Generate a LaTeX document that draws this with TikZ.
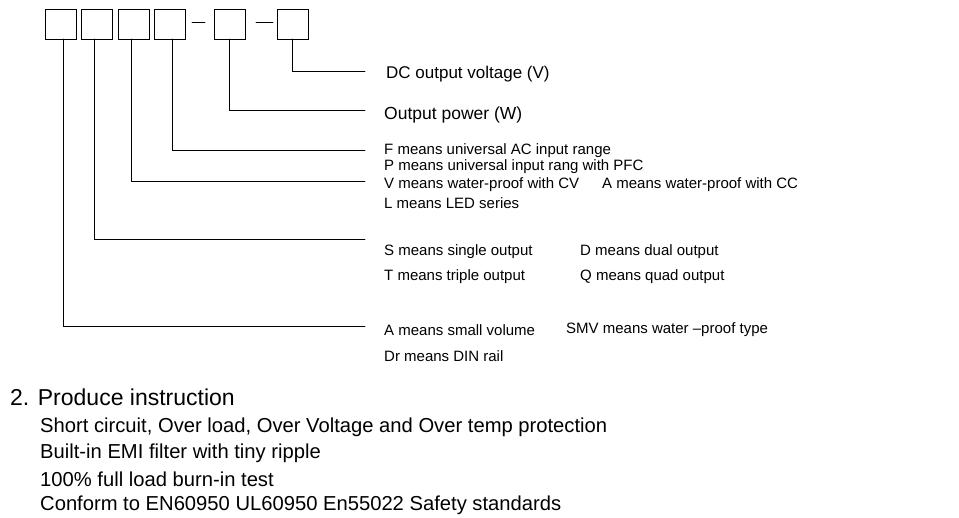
\documentclass[tikz,border=0pt]{standalone}
\usepackage{fontspec}
\setmainfont{Liberation Sans}
\begin{document}
\begin{tikzpicture}[x=1pt,y=-1pt,line cap=round]
        % Styles
        \tikzstyle{digit}=[draw,thick,minimum width=31pt,minimum height=30pt,inner sep=0pt]
        \tikzstyle{lead}=[thick]
        \tikzstyle{small text}=[anchor=west,inner sep=0pt,font=\fontsize{15}{17}\selectfont]
        \tikzstyle{body text}=[anchor=west,inner sep=0pt,font=\fontsize{20.2}{24}\selectfont]
        \useasboundingbox (0,0) rectangle (959,518);
        %boxes
        \foreach \n/\x in {a/61,b/96.5,c/133.5,d/169.5,e/229.5,f/292.5}
            \node[digit] (\n) at (\x,24) {};
        \draw[lead] (192,22) -- (205,22);
        \draw[lead] (256,22) -- (273,22);
        %leads
        \foreach \n/\x/\y in {f/292/71,e/229/110,d/172/150,c/131/181,b/94/239,a/63/326}
            \draw[lead] (\x,24) ++(0,15) coordinate (top-\n) (top-\n) |- (365,\y) coordinate (end-\n);
        %labels
        \node[small text,font=\fontsize{17}{19}\selectfont] (volt) at (386,74) {DC output voltage (V)};
        \node[small text,font=\fontsize{17.5}{20}\selectfont] (power) at (384,115) {Output power (W)};
        \node[small text] (f1) at (384,151) {F means universal AC input range};
        \node[small text] (f2) at (384,167) {P means universal input rang with PFC};
        \node[small text] (f3) at (384,185) {V means water-proof with CV};
        \node[small text] (f3b) at (602,185) {A means water-proof with CC};
        \node[small text] (f4) at (384,203) {L means LED series};
        \node[small text] (s1) at (384,252) {S means single output};
        \node[small text] (s2) at (580,252) {D means dual output};
        \node[small text] (s3) at (384,277) {T means triple output};
        \node[small text] (s4) at (580,277) {Q means quad output};
        \node[small text] (v1) at (384,330) {A means small volume};
        \node[small text] (v2) at (566,330) {SMV means water –proof type};
        \node[small text] (v3) at (384,356) {Dr means DIN rail};
        %instruction
        \node[body text,font=\fontsize{23}{26}\selectfont] (head) at (10,397) {2. Produce instruction};
        \node[body text] (i1) at (40,427) {Short circuit, Over load, Over Voltage and Over temp protection};
        \node[body text] (i2) at (40,453) {Built-in EMI filter with tiny ripple};
        \node[body text] (i3) at (40,479) {100\% full load burn-in test};
        \node[body text] (i4) at (40,505) {Conform to EN60950 UL60950 En55022 Safety standards};
\end{tikzpicture}
\end{document}
